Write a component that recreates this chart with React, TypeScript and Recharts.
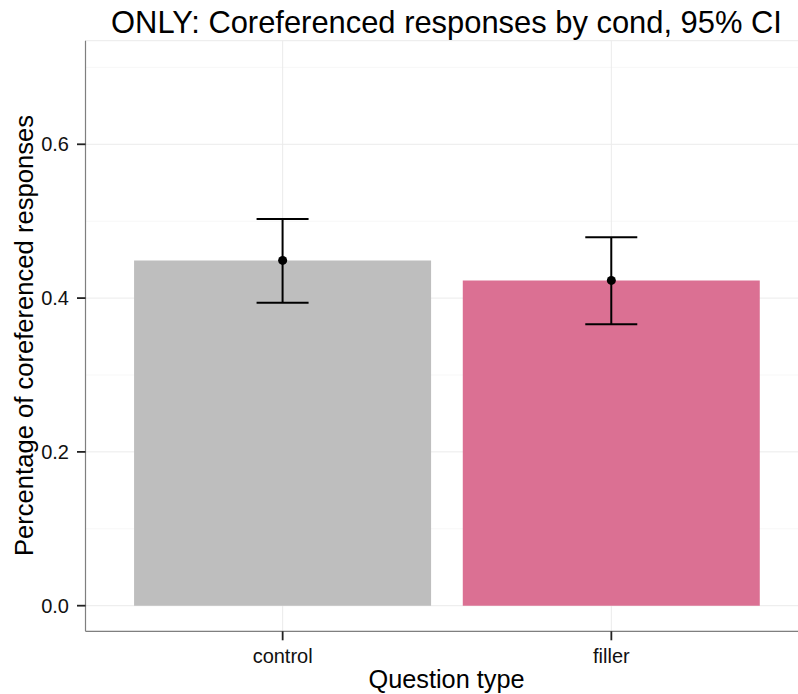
import React from 'react';
import {
  ComposedChart,
  Bar,
  Cell,
  ErrorBar,
  Scatter,
  XAxis,
  YAxis,
  CartesianGrid,
} from 'recharts';

const categories = ['control', 'filler'];
const means = [0.449, 0.423];
const ciLower = [0.394, 0.366];
const ciUpper = [0.503, 0.479];
const barColors = ['#BEBEBE', '#DB7093'];
const yTicks = [0, 0.2, 0.4, 0.6];
const yMinorTicks = [0.1, 0.3, 0.5, 0.7];
const yDomain = [-0.0333, 0.7347];

const data = categories.map((c, i) => ({
  cond: c,
  mean: means[i],
  err: [means[i] - ciLower[i], ciUpper[i] - means[i]],
}));

const FONT = '"Liberation Sans", Arial, Helvetica, sans-serif';

export default function App() {
  return (
    <div
      style={{
        position: 'absolute',
        left: 0,
        top: 0,
        width: 798,
        height: 694,
        overflow: 'hidden',
        background: '#fff',
        fontFamily: FONT,
      }}
    >
      <div style={{ position: 'absolute', left: 0, top: 0 }}>
        <ComposedChart
          width={820}
          height={694}
          data={data}
          margin={{ top: 40.7, right: 11.5, bottom: 0, left: 0 }}
          barCategoryGap="4.8%"
        >
          <CartesianGrid
            stroke="#F7F7F7"
            strokeWidth={1}
            vertical={false}
            horizontalValues={yMinorTicks}
          />
          <CartesianGrid stroke="#EBEBEB" strokeWidth={1} />
          <XAxis
            dataKey="cond"
            type="category"
            padding={{ left: 32.8, right: 32.8 }}
            height={62.7}
            axisLine={{ stroke: '#7F7F7F', strokeWidth: 1.2 }}
            tickLine={{ stroke: '#222222', strokeWidth: 1.8 }}
            tickSize={9}
            tickMargin={8}
            tick={{ fill: '#111111', fontSize: 20, fontFamily: FONT }}
          />
          <XAxis
            xAxisId="top"
            dataKey="cond"
            orientation="top"
            height={0}
            tick={false}
            tickLine={false}
            axisLine={{ stroke: '#7F7F7F', strokeWidth: 1.2 }}
          />
          <YAxis
            type="number"
            domain={yDomain}
            allowDataOverflow
            ticks={yTicks}
            tickFormatter={(v: number) => v.toFixed(1)}
            width={85.5}
            axisLine={{ stroke: '#7F7F7F', strokeWidth: 1.2 }}
            tickLine={{ stroke: '#222222', strokeWidth: 1.8 }}
            tickSize={8.5}
            tickMargin={8}
            tick={{ fill: '#111111', fontSize: 20, fontFamily: FONT }}
          />
          <YAxis
            yAxisId="right"
            orientation="right"
            width={0}
            domain={yDomain}
            tick={false}
            tickLine={false}
            axisLine={{ stroke: '#7F7F7F', strokeWidth: 1.2 }}
          />
          <Bar dataKey="mean" isAnimationActive={false}>
            {data.map((d, i) => (
              <Cell key={d.cond} fill={barColors[i]} />
            ))}
            <ErrorBar
              dataKey="err"
              width={26}
              stroke="#000"
              strokeWidth={2}
              direction="y"
              isAnimationActive={false}
            />
          </Bar>
          <Scatter dataKey="mean" fill="#000" isAnimationActive={false} />
        </ComposedChart>
      </div>
      <svg
        width={798}
        height={694}
        style={{ position: 'absolute', left: 0, top: 0, pointerEvents: 'none' }}
      >
        <text
          x={446.5}
          y={33}
          textAnchor="middle"
          fontSize={30.9}
          fontFamily={FONT}
          fill="#000"
        >
          ONLY: Coreferenced responses by cond, 95% CI
        </text>
        <text
          x={446.5}
          y={688.3}
          textAnchor="middle"
          fontSize={25.3}
          fontFamily={FONT}
          fill="#000"
        >
          Question type
        </text>
        <text
          x={33}
          y={335.5}
          transform="rotate(-90 33 335.5)"
          textAnchor="middle"
          fontSize={25.6}
          fontFamily={FONT}
          fill="#000"
        >
          Percentage of coreferenced responses
        </text>
      </svg>
    </div>
  );
}
